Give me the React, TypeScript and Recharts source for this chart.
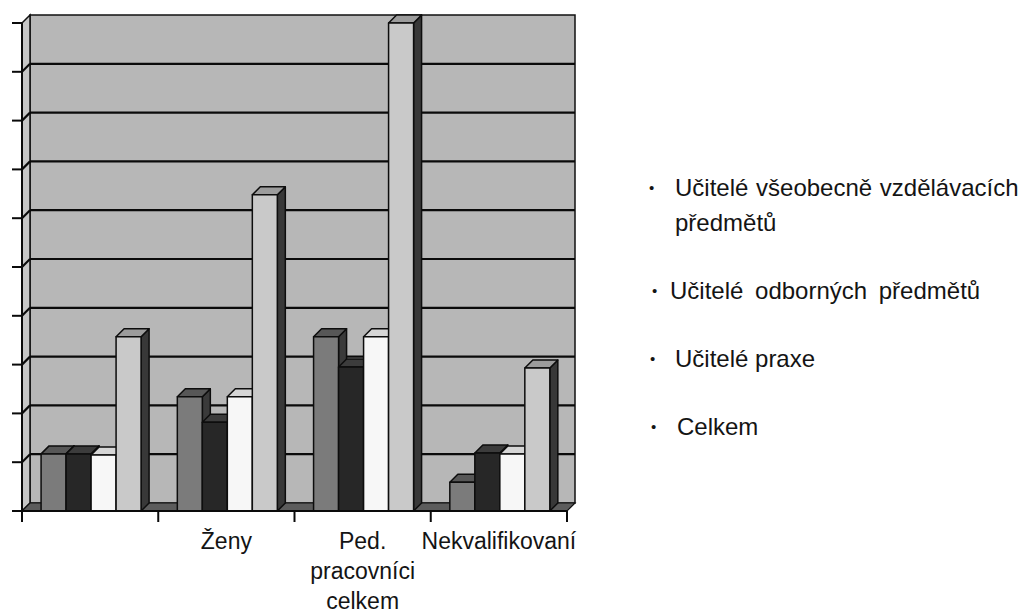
import { BarChart, Bar, XAxis, YAxis, ReferenceArea } from 'recharts'

// categories (first group has no label in the source)
const categories = ['', 'Ženy', 'Ped. pracovníci celkem', 'Nekvalifikovaní']
const categoryLines = [[], ['Ženy'], ['Ped.', 'pracovníci', 'celkem'], ['Nekvalifikovaní']]

// series values, read off the gridlines (10 equal steps, no labels)
const vseobecne = [1.17, 2.34, 3.57, 0.59]
const odborne = [1.17, 1.82, 2.95, 1.19]
const praxe = [1.15, 2.34, 3.57, 1.17]
const celkem = [3.57, 6.48, 10.0, 2.93]

const seriesNames = [
  'Učitelé všeobecně vzdělávacích předmětů',
  'Učitelé odborných předmětů',
  'Učitelé praxe',
  'Celkem',
]
const yTicks = [0, 1, 2, 3, 4, 5, 6, 7, 8, 9, 10]

const DEPTH = 8
const FONT = '"Liberation Sans", Arial, sans-serif'

const palette = [
  { face: '#7b7b7b', top: '#575757', side: '#3a3a3a' },
  { face: '#272727', top: '#3c3c3c', side: '#151515' },
  { face: '#f7f7f7', top: '#d6d6d6', side: '#8e8e8e' },
  { face: '#c9c9c9', top: '#9c9c9c', side: '#383838' },
]

const seriesValues = [vseobecne, odborne, praxe, celkem]
const data = categories.map((cat, i) => ({
  cat,
  s0: vseobecne[i],
  s1: odborne[i],
  s2: praxe[i],
  s3: celkem[i],
}))

function Box3D(props: any) {
  const { x, y, width, height, colors } = props
  if (!height || height <= 0) return null
  const d = DEPTH
  const r = x + width
  const b = y + height
  return (
    <g stroke="#0d0d0d" strokeWidth={1.5} strokeLinejoin="round">
      <polygon points={`${r},${y} ${r + d},${y - d} ${r + d},${b - d} ${r},${b}`} fill={colors.side} />
      <polygon points={`${x},${y} ${x + d},${y - d} ${r + d},${y - d} ${r},${y}`} fill={colors.top} />
      <rect x={x} y={y} width={width} height={height} fill={colors.face} />
    </g>
  )
}

// back wall, left wall, floor and the gridlines drawn on the back wall
function Walls(props: any) {
  const { x, y, width, height } = props
  const d = DEPTH
  const max = yTicks[yTicks.length - 1]
  const b = y + height
  const r = x + width
  return (
    <g>
      <rect x={x + d} y={y - d} width={width} height={height} fill="#b7b7b7" stroke="#111" strokeWidth={1.5} />
      <polygon
        points={`${x},${y} ${x + d},${y - d} ${x + d},${b - d} ${x},${b}`}
        fill="#c6c6c6"
        stroke="#111"
        strokeWidth={1.5}
      />
      <polygon
        points={`${x},${b} ${x + d},${b - d} ${r + d},${b - d} ${r},${b}`}
        fill="#5c5c5c"
        stroke="#111"
        strokeWidth={1.2}
      />
      {yTicks.slice(1, -1).map((t) => {
        const yy = y + height * (1 - t / max)
        return (
          <g key={t} stroke="#0a0a0a" strokeWidth={2.2}>
            <line x1={x + d} x2={r + d} y1={yy - d} y2={yy - d} />
            <line x1={x} x2={x + d} y1={yy} y2={yy - d} />
          </g>
        )
      })}
    </g>
  )
}

function CategoryTick(props: any) {
  const { x, y, payload, index, width } = props
  const half = payload && payload.offset ? payload.offset : width / categories.length / 2
  const lines = categoryLines[index] || []
  const last = index === categories.length - 1
  return (
    <g>
      <line x1={x - half} x2={x - half} y1={y} y2={y + 11} stroke="#0a0a0a" strokeWidth={2} />
      {last && <line x1={x + half} x2={x + half} y1={y} y2={y + 11} stroke="#0a0a0a" strokeWidth={2} />}
      <text x={x} y={y} textAnchor="middle" fill="#141414" fontSize={23} fontFamily={FONT}>
        {lines.map((ln: string, i: number) => (
          <tspan key={i} x={x} y={y + 38 + i * 30}>
            {ln}
          </tspan>
        ))}
      </text>
    </g>
  )
}

function SideLegend() {
  const items = [
    { bulletX: 649, textX: 675, wordSpacing: 1 },
    { bulletX: 652, textX: 670, wordSpacing: 5 },
    { bulletX: 650, textX: 675, wordSpacing: 0 },
    { bulletX: 651, textX: 677, wordSpacing: 0 },
  ]
  return (
    <div
      style={{
        position: 'absolute',
        left: 0,
        top: 170,
        width: 1023,
        fontFamily: FONT,
        fontSize: 24,
        lineHeight: '35px',
        color: '#141414',
        display: 'flex',
        flexDirection: 'column',
        gap: 33,
      }}
    >
      {seriesNames.map((name, i) => (
        <div key={name} style={{ position: 'relative', height: i === 0 ? 70 : 35 }}>
          <span style={{ position: 'absolute', left: items[i].bulletX, fontSize: 15 }}>•</span>
          <span
            style={{
              position: 'absolute',
              left: items[i].textX,
              width: 360,
              whiteSpace: i === 0 ? 'normal' : 'nowrap',
              wordSpacing: items[i].wordSpacing,
            }}
          >
            {name}
          </span>
        </div>
      ))}
    </div>
  )
}

export default function App() {
  return (
    <div style={{ position: 'fixed', left: 0, top: 0, width: 1023, height: 615, background: '#fff', overflow: 'hidden' }}>
      <BarChart
        width={1023}
        height={615}
        data={data}
        margin={{ top: 23, right: 456, left: 10, bottom: 4 }}
        barCategoryGap="14%"
        barGap={0}
      >
        <ReferenceArea y1={0} y2={10} ifOverflow="visible" shape={<Walls />} />
        <XAxis
          dataKey="cat"
          interval={0}
          height={100}
          tickSize={0}
          tickMargin={0}
          tickLine={false}
          axisLine={{ stroke: '#0a0a0a', strokeWidth: 2 }}
          tick={<CategoryTick />}
        />
        <YAxis
          domain={[0, 10]}
          ticks={yTicks}
          width={12}
          tickSize={10}
          tickFormatter={() => ''}
          tickLine={{ stroke: '#0a0a0a', strokeWidth: 2 }}
          axisLine={{ stroke: '#0a0a0a', strokeWidth: 2 }}
        />
        {seriesValues.map((_, i) => (
          <Bar
            key={i}
            dataKey={`s${i}`}
            name={seriesNames[i]}
            fill={palette[i].face}
            isAnimationActive={false}
            shape={(p: any) => <Box3D {...p} colors={palette[i]} />}
          />
        ))}
      </BarChart>
      <SideLegend />
    </div>
  )
}
